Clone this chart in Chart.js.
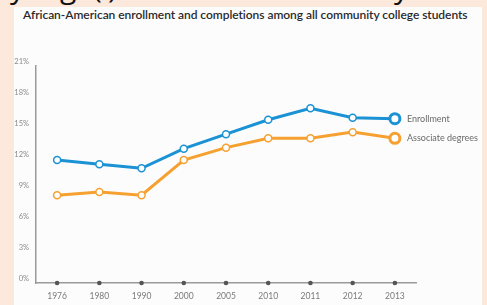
<!DOCTYPE html>
<html>
<head>
<meta charset="utf-8">
<script src="https://cdn.jsdelivr.net/npm/chart.js@4"></script>
<style>
  html, body { margin: 0; padding: 0; }
  body { width: 487px; height: 305px; background: #fce9dc; position: relative; overflow: hidden; }
  #panel { position: absolute; left: 14px; top: 7px; width: 468px; height: 298px; background: #fdfcfd; }
  #cut span { position: absolute; top: -34px; line-height: 40px; font: 30px "Open Sans", sans-serif; color: #111; }
  #title { position: absolute; left: 23px; top: 7px; font: 600 12px Lato, sans-serif; color: #2a2a2a; white-space: nowrap; letter-spacing: -0.05px; }
  #wrap { position: absolute; left: 0; top: 0; width: 487px; height: 305px; }
</style>
</head>
<body>
<div id="cut"><span style="left:10px">y</span><span style="left:60px">g</span><span style="left:93px">(</span><span style="left:108px">)</span><span style="left:394px">y</span></div>
<div id="panel"></div>
<div id="title">African-American enrollment and completions among all community college students</div>
<div id="wrap"><canvas id="chart" width="487" height="305"></canvas></div>
<script>
// values (percent of all community college students)
const years = ['1976', '1980', '1990', '2000', '2005', '2010', '2011', '2012', '2013'];
const enrollment = [11.9, 11.5, 11.1, 13.0, 14.4, 15.8, 16.9, 16.0, 15.9];
const associateDegrees = [8.5, 8.8, 8.5, 11.9, 13.1, 14.0, 14.0, 14.6, 14.0];
const axisMarks = [0, 0, 0, 0, 0, 0, 0, 0, 0];
const seriesNames = ['Enrollment', 'Associate degrees'];

const blue = 'rgb(26, 146, 212)';
const orange = 'rgb(246, 160, 48)';

// small markers, bigger ring on the last point (acts as legend marker)
function radii(n) {
    return years.map((y, i) => i === years.length - 1 ? 5 : n);
}
function borders(n) {
    return years.map((y, i) => i === years.length - 1 ? 3 : n);
}

// draw series names next to the last point
const endLabels = {
    id: 'endLabels',
    afterDatasetsDraw(chart) {
        const ctx = chart.ctx;
        ctx.save();
        ctx.font = '9px Lato, sans-serif';
        ctx.fillStyle = '#6a6a6a';
        ctx.textBaseline = 'middle';
        [0, 1].forEach(i => {
            const pts = chart.getDatasetMeta(i).data;
            const last = pts[pts.length - 1];
            ctx.fillText(seriesNames[i], last.x + 12, last.y);
        });
        ctx.restore();
    }
};

new Chart(document.getElementById('chart'), {
    type: 'line',
    data: {
        labels: years,
        datasets: [
            {
                label: seriesNames[0],
                data: enrollment,
                borderColor: blue,
                borderWidth: 3,
                pointBackgroundColor: '#ffffff',
                pointBorderColor: blue,
                pointRadius: radii(3.5),
                pointBorderWidth: borders(1.5),
                tension: 0
            },
            {
                label: seriesNames[1],
                data: associateDegrees,
                borderColor: orange,
                borderWidth: 3,
                pointBackgroundColor: '#ffffff',
                pointBorderColor: orange,
                pointRadius: radii(3.5),
                pointBorderWidth: borders(1.5),
                tension: 0
            },
            {
                label: 'axis',
                data: axisMarks,
                showLine: false,
                pointRadius: 2.3,
                pointBorderWidth: 0,
                pointBackgroundColor: '#555555',
                clip: false
            }
        ]
    },
    options: {
        responsive: false,
        animation: false,
        events: [],
        layout: { padding: { top: 66, right: 71, bottom: 4, left: 0 } },
        plugins: {
            legend: { display: false },
            tooltip: { enabled: false }
        },
        scales: {
            x: {
                offset: true,
                grid: { display: false, drawTicks: false },
                border: { color: '#9a9a9a', width: 1.5 },
                ticks: { color: '#7a7a7a', font: { family: 'Lato', size: 8.5 }, padding: 8, maxRotation: 0 },
                afterFit(scale) { scale.height = 18; }
            },
            y: {
                min: 0,
                max: 21,
                grid: { display: false, drawTicks: false },
                border: { color: '#9a9a9a', width: 1.5 },
                ticks: {
                    stepSize: 3,
                    color: '#8a8a8a',
                    font: { family: 'Lato', size: 7.5 },
                    padding: 7,
                    labelOffset: -4,
                    callback: v => v + '%'
                },
                afterFit(scale) { scale.width = 36; }
            }
        }
    },
    plugins: [endLabels]
});
</script>
</body>
</html>
